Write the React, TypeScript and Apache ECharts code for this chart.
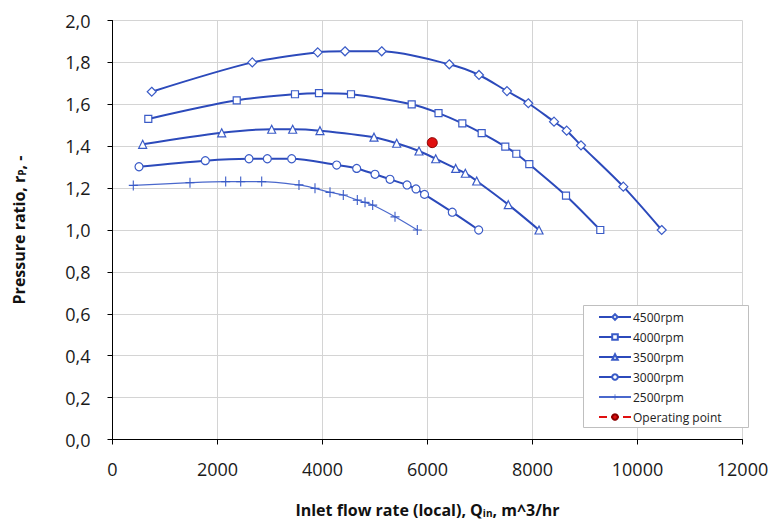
import React, { useEffect, useRef } from "react";
import * as echarts from "echarts";

// Inlet flow rate Q (m^3/hr) and pressure ratio rp for each speed line
const q4500 = [747, 2663, 3909, 4429, 5128, 6415, 6981, 7514, 7920, 8410, 8651, 8924, 9730, 10461];
const r4500 = [1.66, 1.80, 1.848, 1.853, 1.853, 1.791, 1.74, 1.663, 1.605, 1.517, 1.474, 1.404, 1.207, 1.0];

const q4000 = [682, 2366, 3476, 3933, 4543, 5699, 6210, 6663, 7032, 7482, 7691, 7939, 8638, 9291];
const r4000 = [1.53, 1.619, 1.648, 1.653, 1.648, 1.60, 1.558, 1.509, 1.462, 1.398, 1.364, 1.314, 1.164, 1.0];

const q3500 = [575, 2080, 3032, 3432, 3952, 4981, 5413, 5838, 6156, 6537, 6720, 6937, 7539, 8124];
const r3500 = [1.409, 1.464, 1.481, 1.481, 1.474, 1.443, 1.414, 1.377, 1.34, 1.294, 1.271, 1.234, 1.121, 1.0];

const q3000 = [505, 1768, 2600, 2949, 3413, 4270, 4651, 5000, 5286, 5610, 5781, 5943, 6472, 6975];
const r3000 = [1.302, 1.331, 1.34, 1.34, 1.34, 1.31, 1.294, 1.266, 1.242, 1.215, 1.196, 1.17, 1.085, 1.0];

const q2500 = [396, 1476, 2156, 2442, 2842, 3552, 3857, 4143, 4396, 4663, 4810, 4956, 5381, 5806];
const r2500 = [1.213, 1.226, 1.231, 1.231, 1.231, 1.215, 1.199, 1.18, 1.167, 1.143, 1.132, 1.119, 1.063, 1.0];

const qOperating = [6091];
const rOperating = [1.417];

const seriesNames = ["4500rpm", "4000rpm", "3500rpm", "3000rpm", "2500rpm", "Operating point"];

const xTicks = { min: 0, max: 12000, interval: 2000 };
const yTicks = { min: 0, max: 2, interval: 0.2 };

const zip = (xs: number[], ys: number[]) => xs.map((x, i) => [x, ys[i]]);

const BLUE = "#2c4abb";
const FONT = "'Open Sans', 'Liberation Sans', sans-serif";

const plusPath = "path://M4.4,0H5.6V4.4H10V5.6H5.6V10H4.4V5.6H0V4.4H4.4Z";

export default function App() {
  const ref = useRef<HTMLDivElement>(null);
  useEffect(() => {
    if (!ref.current) return;
    const chart = echarts.init(ref.current, undefined, { renderer: "svg" });

    const speedLine = (name: string, q: number[], r: number[], symbol: string, size: number | number[]) => ({
      name,
      type: "line",
      data: zip(q, r),
      smooth: 0.3,
      symbol,
      symbolSize: size,
      showAllSymbol: true,
      lineStyle: { color: BLUE, width: 2 },
      itemStyle: { color: "#ffffff", borderColor: "#3a5bc7", borderWidth: 1.2 },
      z: 3,
    });

    chart.setOption({
      animation: false,
      backgroundColor: "#ffffff",
      textStyle: { fontFamily: FONT },
      grid: { left: 112.5, right: 31.5, top: 20.5, bottom: 89.5, containLabel: false },
      graphic: [
        {
          type: "rect",
          left: 583,
          top: 305,
          z: 10,
          shape: { width: 165, height: 122 },
          style: { fill: "#ffffff", stroke: "#bfbfbf", lineWidth: 1 },
        },
      ],
      legend: {
        data: seriesNames,
        orient: "vertical",
        left: 583,
        top: 305,
        z: 20,
        padding: [5, 10, 4, 15],
        itemGap: 6,
        itemWidth: 32,
        itemHeight: 7,
        textStyle: { fontFamily: FONT, fontSize: 12, lineHeight: 14, color: "#222222", padding: [0, 0, 0, -3] },
      },
      xAxis: {
        type: "value",
        min: xTicks.min,
        max: xTicks.max,
        interval: xTicks.interval,
        name: "{a|Inlet flow rate (local), Q}{s|in}{a|, m^3/hr}",
        nameLocation: "middle",
        nameGap: 62,
        nameTextStyle: {
          rich: {
            a: { fontFamily: FONT, fontSize: 16, fontWeight: "bold", color: "#111111" },
            s: { fontFamily: FONT, fontSize: 10, fontWeight: "bold", color: "#111111", verticalAlign: "bottom", padding: [6, 0, 0, 0] },
          },
        },
        axisLine: { show: true, lineStyle: { color: "#000000", width: 1 } },
        axisTick: { show: true, length: 5, lineStyle: { color: "#000000" } },
        axisLabel: {
          fontFamily: FONT,
          fontSize: 18,
          color: "#1a1a1a",
          margin: 20,
          formatter: (v: number) => String(Math.round(v)),
        },
        splitLine: { show: true, lineStyle: { color: "#d4d4d4", width: 1 } },
      },
      yAxis: {
        type: "value",
        min: yTicks.min,
        max: yTicks.max,
        interval: yTicks.interval,
        name: "{a|Pressure ratio, r}{s|P}{a|, -}",
        nameLocation: "middle",
        nameGap: 86,
        nameRotate: 90,
        nameTextStyle: {
          rich: {
            a: { fontFamily: FONT, fontSize: 16, fontWeight: "bold", color: "#111111" },
            s: { fontFamily: FONT, fontSize: 10, fontWeight: "bold", color: "#111111", verticalAlign: "bottom", padding: [6, 0, 0, 0] },
          },
        },
        axisLine: { show: true, lineStyle: { color: "#000000", width: 1 } },
        axisTick: { show: true, length: 5, lineStyle: { color: "#000000" } },
        axisLabel: {
          fontFamily: FONT,
          fontSize: 18,
          color: "#1a1a1a",
          margin: 22,
          formatter: (v: number) => v.toFixed(1).replace(".", ","),
        },
        splitLine: { show: true, lineStyle: { color: "#d4d4d4", width: 1 } },
      },
      series: [
        speedLine(seriesNames[0], q4500, r4500, "diamond", 9),
        speedLine(seriesNames[1], q4000, r4000, "rect", 7),
        speedLine(seriesNames[2], q3500, r3500, "triangle", 8),
        speedLine(seriesNames[3], q3000, r3000, "circle", 8),
        {
          name: seriesNames[4],
          type: "line",
          data: zip(q2500, r2500),
          smooth: 0.3,
          symbol: plusPath,
          symbolSize: [9, 10],
          showAllSymbol: true,
          lineStyle: { color: "#4a68cc", width: 1.2 },
          itemStyle: { color: "#3a5bc7" },
          z: 3,
        },
        {
          name: seriesNames[5],
          type: "line",
          data: zip(qOperating, rOperating),
          symbol: "circle",
          symbolSize: 10,
          lineStyle: { color: "#e01010", width: 2, type: "dashed" },
          itemStyle: { color: "#e01010", borderColor: "#8a0000", borderWidth: 1 },
          z: 4,
        },
      ],
    });
    return () => chart.dispose();
  }, []);
  return (
    <div
      ref={ref}
      style={{ position: "fixed", left: 0, top: 0, width: 774, height: 529 }}
    />
  );
}
